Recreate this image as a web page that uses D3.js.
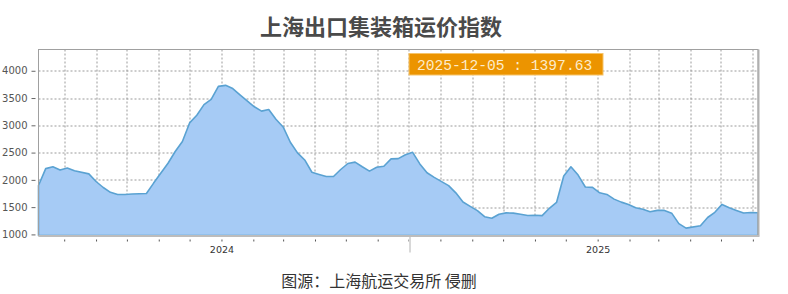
<!DOCTYPE html>
<html>
<head>
<meta charset="utf-8">
<script src="https://cdn.jsdelivr.net/npm/d3@7"></script>
<style>
  body { margin: 0; background: #fff; }
  svg { display: block; }
</style>
</head>
<body>
<svg id="chart"></svg>
<script>
// weekly index, first week as shown on the axis; null = week with no release
const firstWeek = "2023-07-07";
const values = [
  1897, 2206, 2240, 2179, 2218, 2166, null, 2110, 1970, 1860,
  1772, 1732, 1731, 1740, 1745, 1750, 1941, null, 2305, 2520,
  2703, 3044, 3184, 3379, 3475, 3714, 3733, 3674, 3560, 3448,
  3340, 3260, 3290, 3110, 2970, 2690, 2495, 2365, 2140, 2100,
  2062, 2062, 2190, 2300, 2325, 2240, 2160, 2230, 2250, 2385,
  2390, 2460, 2505, 2292, 2130, 2045, null, 1895, 1762, 1595,
  1515, 1436, 1325, 1295, 1370, 1395, 1390, 1370, 1347, 1350,
  1345, 1479, 1586, 2072, 2240, 2088, 1869, 1862, 1763, 1733,
  1647, 1592, 1550, 1490, 1460, 1415, 1440, 1440, 1390, 1198,
  1115, null, 1160, 1310, 1405, 1550, 1490, 1440, 1393, 1403,
  1397.63
];
const yTicks = [1000, 1500, 2000, 2500, 3000, 3500, 4000];
const yDomain = [980, 4390];
const title = "上海出口集装箱运价指数";
const tipText = "2025-12-05 : 1397.63";
const source = "图源：上海航运交易所 侵删";

const width = 788, height = 294;
const margin = { top: 49.5, left: 38.5, right: 30, bottom: 58.5 };
const innerWidth = width - margin.left - margin.right;
const innerHeight = height - margin.top - margin.bottom;

const parse = d3.timeParse("%Y-%m-%d");
const start = parse(firstWeek);
const data = values
  .map((v, i) => ({ date: d3.timeDay.offset(start, 7 * i), value: v }))
  .filter(d => d.value !== null);

const svg = d3.select("#chart")
  .attr("width", width)
  .attr("height", height)
  .style("font-family", "'DejaVu Sans', sans-serif");

svg.append("text")
  .attr("x", 381)
  .attr("y", 35)
  .attr("text-anchor", "middle")
  .attr("font-family", "'Noto Sans CJK SC', sans-serif")
  .attr("font-size", "22px")
  .attr("font-weight", "bold")
  .attr("fill", "#4a4a4a")
  .text(title);

const x = d3.scaleTime()
  .domain(d3.extent(data, d => d.date))
  .range([0, innerWidth]);

const y = d3.scaleLinear()
  .domain(yDomain)
  .range([innerHeight, 0]);

const g = svg.append("g")
  .attr("transform", "translate(" + margin.left + "," + margin.top + ")");

const months = x.ticks(d3.timeMonth.every(1));

// grid
g.append("g")
  .selectAll("line")
  .data(yTicks)
  .enter()
  .append("line")
  .attr("x1", 0)
  .attr("x2", innerWidth)
  .attr("y1", d => Math.round(y(d)) + 0.5)
  .attr("y2", d => Math.round(y(d)) + 0.5)
  .attr("stroke", "#9a9a9a")
  .attr("stroke-dasharray", "2,2");

g.append("g")
  .selectAll("line")
  .data(months)
  .enter()
  .append("line")
  .attr("x1", d => Math.round(x(d)) + 0.5)
  .attr("x2", d => Math.round(x(d)) + 0.5)
  .attr("y1", 0)
  .attr("y2", innerHeight)
  .attr("stroke", "#9a9a9a")
  .attr("stroke-dasharray", "2,2");

// area
const area = d3.area()
  .x(d => x(d.date))
  .y0(innerHeight)
  .y1(d => y(d.value));

g.append("path")
  .datum(data)
  .attr("d", area)
  .attr("fill", "#a6cbf5")
  .attr("stroke", "#5aa2d2")
  .attr("stroke-width", 1.6)
  .attr("stroke-linejoin", "round");

// frame
g.append("rect")
  .attr("x", 0)
  .attr("y", 0)
  .attr("width", innerWidth)
  .attr("height", innerHeight)
  .attr("fill", "none")
  .attr("stroke", "#a0a0a0")
  .attr("stroke-width", 1);

g.append("line")
  .attr("x1", innerWidth + 0.5)
  .attr("x2", innerWidth + 0.5)
  .attr("y1", 0)
  .attr("y2", innerHeight)
  .attr("stroke", "#b0b0b0")
  .attr("stroke-width", 2);

g.append("line")
  .attr("x1", 0)
  .attr("x2", innerWidth + 1.5)
  .attr("y1", innerHeight + 0.5)
  .attr("y2", innerHeight + 0.5)
  .attr("stroke", "#bcbcbc")
  .attr("stroke-width", 2);

// y axis
const yAxis = d3.axisLeft(y)
  .tickValues(yTicks)
  .tickSize(4)
  .tickPadding(4)
  .tickFormat(d3.format("d"));

g.append("g")
  .attr("transform", "translate(-3,0)")
  .call(yAxis)
  .call(a => a.select(".domain").remove())
  .call(a => a.selectAll("line").attr("stroke", "#666"))
  .call(a => a.selectAll("text")
    .attr("fill", "#555")
    .attr("font-size", "10px")
    .attr("font-family", "'DejaVu Sans', sans-serif"));

// x axis: monthly marks, year labels in January
const xAxis = d3.axisBottom(x)
  .tickValues(months)
  .tickSize(2)
  .tickPadding(5)
  .tickFormat(d => d.getMonth() === 0 ? d3.timeFormat("%Y")(d) : "");

g.append("g")
  .attr("transform", "translate(0," + (innerHeight + 4) + ")")
  .call(xAxis)
  .call(a => a.select(".domain").remove())
  .call(a => a.selectAll("line").attr("stroke", "#555"))
  .call(a => a.selectAll("text")
    .attr("fill", "#333")
    .attr("font-size", "9.5px")
    .attr("font-family", "'DejaVu Sans', sans-serif"));

// half-year marker
const julyMark = months.filter(d => d.getMonth() === 6 && d.getFullYear() === 2024);
g.selectAll(".half")
  .data(julyMark)
  .enter()
  .append("line")
  .attr("class", "half")
  .attr("x1", d => x(d) + 1.5)
  .attr("x2", d => x(d) + 1.5)
  .attr("y1", innerHeight + 1.5)
  .attr("y2", innerHeight + 17)
  .attr("stroke", "#d8d8d8")
  .attr("stroke-width", 2);

// tooltip
const tip = svg.append("g")
  .attr("transform", "translate(409,53.5)");

tip.append("rect")
  .attr("width", 194)
  .attr("height", 21.5)
  .attr("fill", "#ec9400")
  .attr("stroke", "#f6c46a")
  .attr("stroke-width", 1);

tip.append("text")
  .attr("x", 8)
  .attr("y", 16)
  .attr("font-family", "'Liberation Mono', monospace")
  .attr("font-size", "14.6px")
  .attr("fill", "#fdeccb")
  .text(tipText);

svg.append("text")
  .attr("x", 379)
  .attr("y", 287)
  .attr("text-anchor", "middle")
  .attr("font-family", "'Noto Sans CJK SC', sans-serif")
  .attr("font-size", "16px")
  .attr("fill", "#333")
  .text(source);
</script>
</body>
</html>
